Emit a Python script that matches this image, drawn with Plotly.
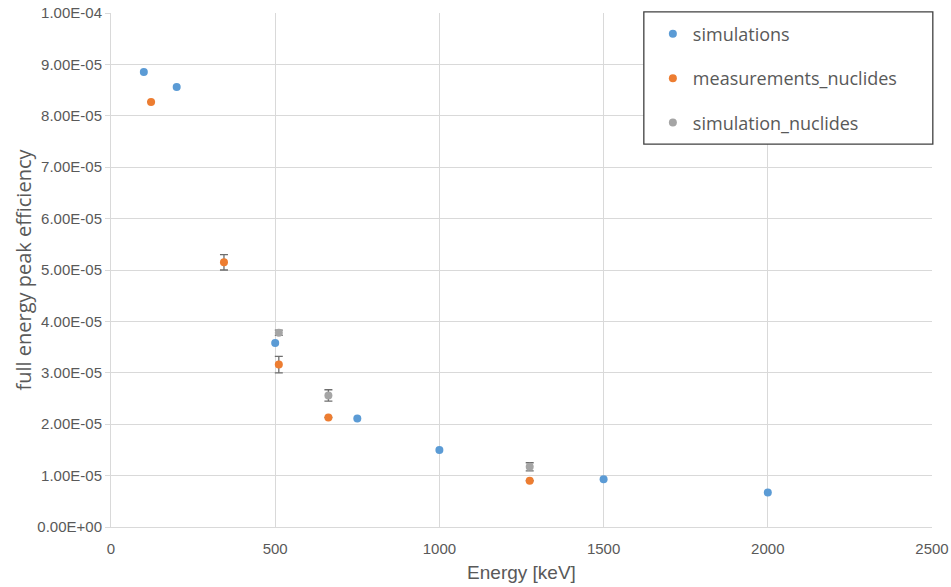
import plotly.graph_objects as go

# Data
sim_energy = [100, 200, 500, 750, 1000, 1500, 2000]
sim_eff = [8.85e-5, 8.56e-5, 3.58e-5, 2.11e-5, 1.50e-5, 9.3e-6, 6.7e-6]

meas_energy = [122, 344, 511, 662, 1275]
meas_eff = [8.27e-5, 5.15e-5, 3.16e-5, 2.13e-5, 9.0e-6]
meas_err = [0.0, 1.5e-6, 1.6e-6, 0.0, 0.0]

simnuc_energy = [511, 662, 1275]
simnuc_eff = [3.78e-5, 2.56e-5, 1.17e-5]
simnuc_err = [5e-7, 1.1e-6, 8e-7]

y_ticks = [i * 1e-5 for i in range(11)]
y_ticklabels = [f"{v:.2E}" for v in y_ticks]
x_ticks = [0, 500, 1000, 1500, 2000, 2500]

grey = "#595959"
errc = "#6e6e6e"

fig = go.Figure()
fig.add_trace(go.Scatter(
    x=sim_energy, y=sim_eff, mode="markers", name="simulations",
    legendgroup="a",
    marker=dict(color="#5B9BD5", size=8)))
fig.add_trace(go.Scatter(
    x=meas_energy, y=meas_eff, mode="markers", name="measurements_nuclides",
    legendgroup="b",
    marker=dict(color="#ED7D31", size=8),
    error_y=dict(type="data", array=meas_err, visible=True, color=errc,
                 thickness=1.3, width=4)))
fig.add_trace(go.Scatter(
    x=simnuc_energy, y=simnuc_eff, mode="markers", name="simulation_nuclides",
    legendgroup="c",
    marker=dict(color="#A5A5A5", size=8),
    error_y=dict(type="data", array=simnuc_err, visible=True, color=errc,
                 thickness=1.3, width=4)))

# legend frame
fig.add_shape(type="rect", xref="paper", yref="paper",
              x0=0.649, x1=1.001, y0=0.745, y1=1.002,
              line=dict(color="#404040", width=1.3), fillcolor="white", layer="above")

fig.update_layout(
    width=951, height=587,
    margin=dict(l=111, r=19, t=13, b=60),
    paper_bgcolor="white", plot_bgcolor="white",
    font=dict(family="Open Sans, DejaVu Sans", color=grey),
    showlegend=True,
    legend=dict(
        x=0.66, y=0.995, xanchor="left", yanchor="top",
        borderwidth=0, bgcolor="rgba(0,0,0,0)",
        font=dict(size=18, color=grey, family="Open Sans"),
        tracegroupgap=18, itemsizing="trace",
    ),
    xaxis=dict(
        range=[0, 2500], tickvals=x_ticks, ticktext=[str(v) for v in x_ticks],
        showgrid=True, gridcolor="#d9d9d9", gridwidth=1,
        showline=True, linecolor="#d9d9d9", linewidth=1,
        zeroline=False, ticks="", automargin=False, ticklabelstandoff=8,
        tickfont=dict(family="Liberation Sans Narrow, Liberation Sans", size=15, color=grey),
        title=dict(text="Energy [keV]", standoff=9,
                   font=dict(family="Liberation Sans Narrow, Liberation Sans", size=19, color=grey)),
    ),
    yaxis=dict(
        range=[0, 1.0e-4], tickvals=y_ticks, ticktext=y_ticklabels,
        showgrid=True, gridcolor="#d9d9d9", gridwidth=1,
        showline=True, linecolor="#d9d9d9", linewidth=1,
        zeroline=False, ticks="outside", ticklen=5, tickcolor="#d9d9d9",
        automargin=False,
        tickfont=dict(family="Liberation Sans Narrow, Liberation Sans", size=15, color=grey),
        title=dict(text="full energy peak efficiency", standoff=0,
                   font=dict(family="Open Sans", size=20, color=grey)),
    ),
)

fig.write_html("out.html")
